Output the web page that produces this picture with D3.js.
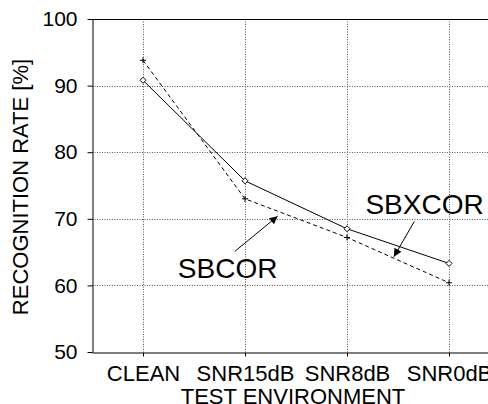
<!DOCTYPE html>
<html><head><meta charset="utf-8">
<script src="https://cdn.jsdelivr.net/npm/d3@7"></script>
<style>body{margin:0;background:#fff}svg{display:block;font-family:"Liberation Sans",Arial,sans-serif}</style>
</head><body>
<script>
const categories = ["CLEAN", "SNR15dB", "SNR8dB", "SNR0dB"];
const sbxcor = [90.8, 75.7, 68.5, 63.3];
const sbcor = [93.8, 73.0, 67.2, 60.4];
const yTicks = [50, 60, 70, 80, 90, 100];
const xTitle = "TEST ENVIRONMENT";
const yTitle = "RECOGNITION RATE [%]";
// annotations: label position and arrow (category index, value)
const annLabels = ["SBXCOR", "SBCOR"];
const annText = [[2.76, 70.7], [0.83, 61.1]];
const annFrom = [[2.66, 69.6], [0.90, 65.1]];
const annTo = [[2.46, 64.3], [1.32, 70.4]];

const W = 488, H = 404;
const svg = d3.select("body").append("svg").attr("width", W).attr("height", H);
const L = 92, R = 500, T = 19, B = 352;
const x = d3.scalePoint().domain(categories).range([L, R]).padding(0.5);
const step = x.step();
const xi = i => x(categories[0]) + i * step;
const y = d3.scaleLinear().domain([50, 100]).range([B, T]);

// grid
const grid = svg.append("g").attr("stroke", "#555").attr("stroke-dasharray", "1,1.5").attr("stroke-width", 1);
yTicks.filter(v => v > 50 && v < 100).forEach(v => {
  grid.append("line").attr("x1", L).attr("x2", R).attr("y1", Math.round(y(v)) + 0.5).attr("y2", Math.round(y(v)) + 0.5);
});
categories.forEach(c => {
  grid.append("line").attr("x1", Math.round(x(c)) + 0.5).attr("x2", Math.round(x(c)) + 0.5).attr("y1", T).attr("y2", B);
});

// axes
const yAxis = svg.append("g").attr("transform", `translate(${L + 0.5},0)`)
  .call(d3.axisLeft(y).tickValues(yTicks).tickSize(5).tickPadding(10).tickSizeOuter(0));
const xAxis = svg.append("g").attr("transform", `translate(0,${B + 0.5})`)
  .call(d3.axisBottom(x).tickSize(4).tickPadding(9).tickSizeOuter(0));
[yAxis, xAxis].forEach(g => {
  g.select(".domain").attr("stroke", "#000");
  g.selectAll("line").attr("stroke", "#000");
  g.selectAll("text").attr("font-size", 21).attr("fill", "#000").attr("font-family", "Liberation Sans, Arial, sans-serif");
});
xAxis.selectAll("text").attr("font-size", 22);
// top frame line
svg.append("line").attr("x1", L).attr("x2", R).attr("y1", T + 0.5).attr("y2", T + 0.5).attr("stroke", "#000");

// titles
svg.append("text").attr("x", 293).attr("y", 404).attr("text-anchor", "middle").attr("font-size", 22).text(xTitle);
svg.append("text").attr("transform", "translate(28,187) rotate(-90)").attr("text-anchor", "middle").attr("font-size", 22).text(yTitle);

// lines
const line = d3.line().x((d, i) => x(categories[i])).y(d => y(d));
svg.append("path").datum(sbxcor).attr("d", line).attr("fill", "none").attr("stroke", "#000").attr("stroke-width", 1);
svg.append("path").datum(sbcor).attr("d", line).attr("fill", "none").attr("stroke", "#000").attr("stroke-width", 1).attr("stroke-dasharray", "4,3");

// markers
sbxcor.forEach((v, i) => {
  const cx = x(categories[i]), cy = y(v), s = 3;
  svg.append("path").attr("d", `M${cx},${cy - s}L${cx + s},${cy}L${cx},${cy + s}L${cx - s},${cy}Z`).attr("fill", "#fff").attr("stroke", "#000").attr("stroke-width", 1);
});
sbcor.forEach((v, i) => {
  const cx = x(categories[i]), cy = y(v), s = 3;
  svg.append("path").attr("d", `M${cx - s},${cy}H${cx + s}M${cx},${cy - s}V${cy + s}`).attr("stroke", "#000").attr("stroke-width", 1);
});

// annotations
svg.append("defs").append("marker").attr("id", "ah").attr("viewBox", "0 0 10 10").attr("refX", 10).attr("refY", 5)
  .attr("markerWidth", 12).attr("markerHeight", 8).attr("markerUnits", "userSpaceOnUse").attr("orient", "auto")
  .append("path").attr("d", "M0,0L10,5L0,10Z").attr("fill", "#000");
annLabels.forEach((lab, k) => {
  svg.append("text").attr("x", xi(annText[k][0])).attr("y", y(annText[k][1])).attr("text-anchor", "middle").attr("font-size", 28).text(lab);
  svg.append("line").attr("x1", xi(annFrom[k][0])).attr("y1", y(annFrom[k][1])).attr("x2", xi(annTo[k][0])).attr("y2", y(annTo[k][1]))
    .attr("stroke", "#000").attr("stroke-width", 1).attr("marker-end", "url(#ah)");
});
</script>
</body></html>
